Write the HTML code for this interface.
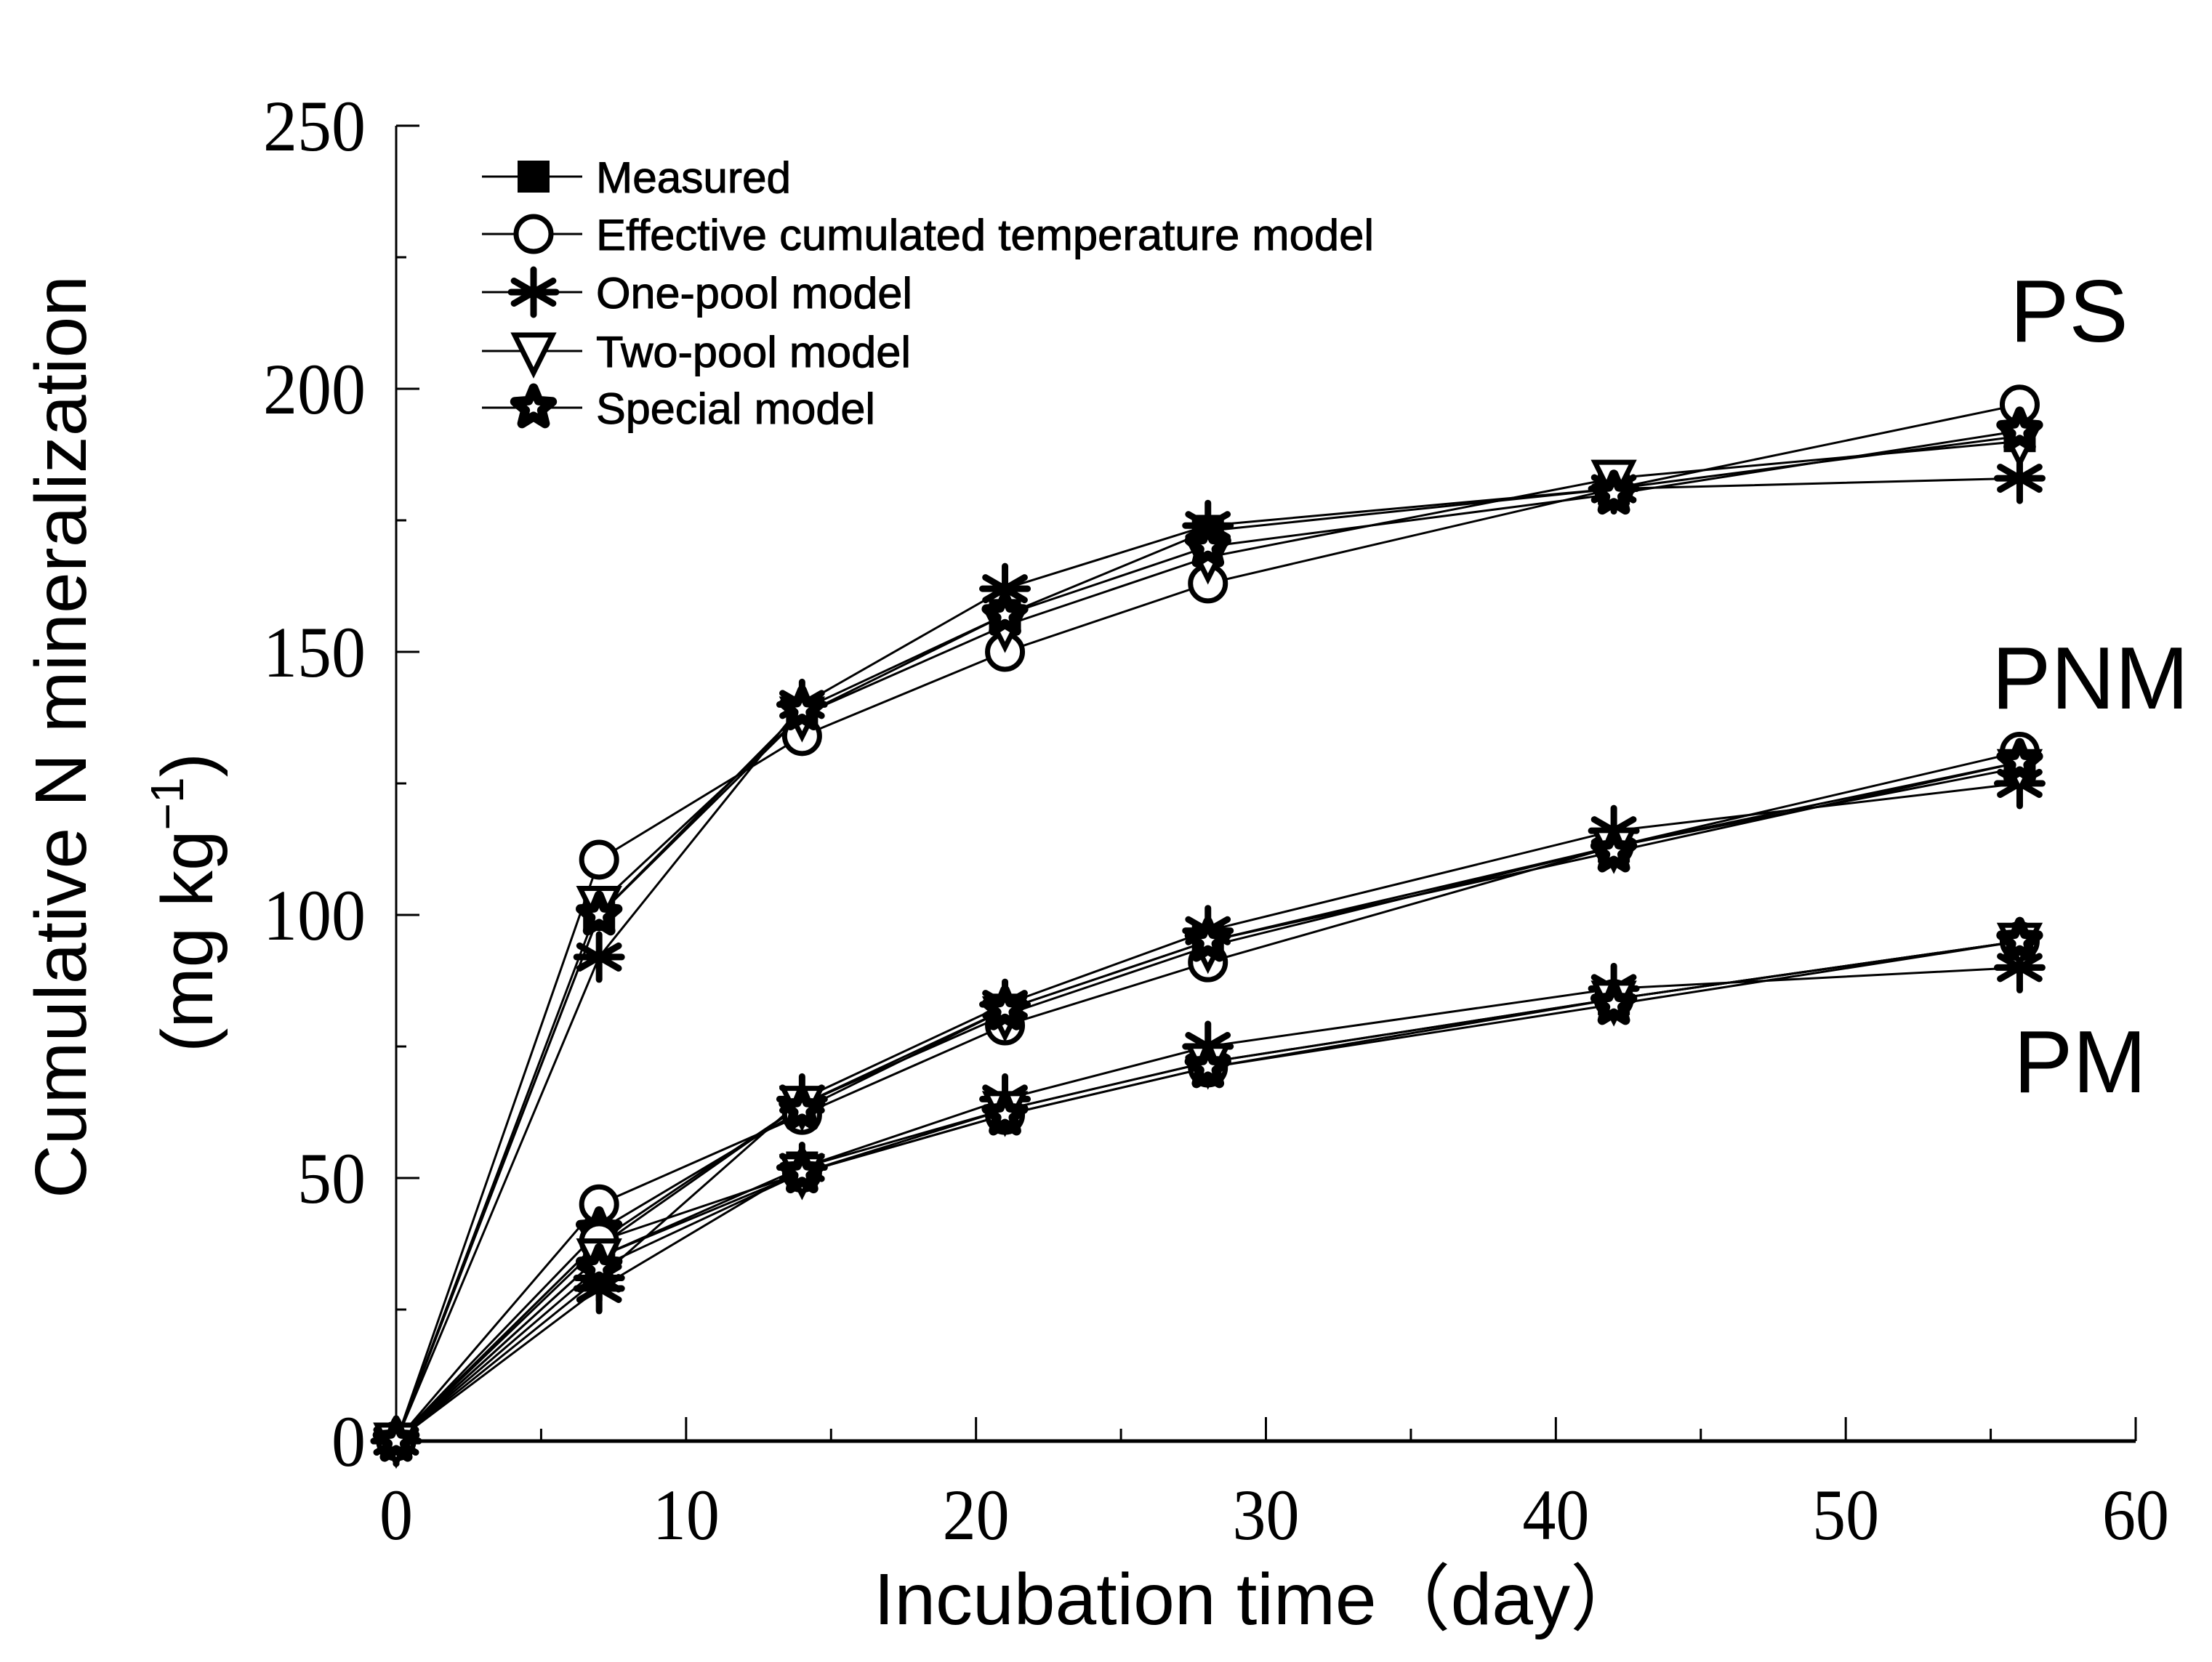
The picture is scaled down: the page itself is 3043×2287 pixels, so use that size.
<!DOCTYPE html>
<html><head><meta charset="utf-8"><style>
html,body{margin:0;padding:0;background:#fff;}
svg{display:block;}
</style></head><body>
<svg id="chart" width="3043" height="2287" viewBox="0 0 3043 2287" xmlns="http://www.w3.org/2000/svg">
<g id="axes"></g>
<g id="series"></g>
<g id="legend"></g>
<text x="1732" y="2235" text-anchor="middle" font-family="Liberation Sans, Noto Sans CJK SC, sans-serif" font-size="100" textLength="1060" lengthAdjust="spacingAndGlyphs">Incubation time（day）</text>
<text transform="translate(118,1014) rotate(-90)" text-anchor="middle" font-family="Liberation Sans, sans-serif" font-size="100" textLength="1270" lengthAdjust="spacingAndGlyphs">Cumulative N mineralization</text>
<text transform="translate(292,1242) rotate(-90)" text-anchor="middle" font-family="Liberation Sans, sans-serif" font-size="100">(mg kg<tspan dy="-40" font-size="64">−1</tspan><tspan dy="40">)</tspan></text>
<text x="2765" y="470" font-family="Liberation Sans, sans-serif" font-size="122">PS</text>
<text x="2740" y="975" font-family="Liberation Sans, sans-serif" font-size="122">PNM</text>
<text x="2770" y="1503" font-family="Liberation Sans, sans-serif" font-size="122">PM</text>
</svg>
<script>
const days = [0, 7, 14, 21, 28, 42, 56];
const xTicks = [0, 10, 20, 30, 40, 50, 60];
const yTicks = [0, 50, 100, 150, 200, 250];
const seriesNames = ["Measured", "Effective cumulated temperature model", "One-pool model", "Two-pool model", "Special model"];
const markerTypes = ["square", "circle", "asterisk", "triangle", "star"];
const psMeasured = [0, 100, 138, 157, 173, 181, 191];
const psECT = [0, 110.5, 134, 150, 163, 181, 197];
const psOne = [0, 92, 140, 162, 174, 181, 183];
const psTwo = [0, 102, 138, 155, 168, 183, 190];
const psSpecial = [0, 100, 139, 157, 170, 180, 192];
const pnmMeasured = [0, 37, 64, 82, 95, 113, 129];
const pnmECT = [0, 45, 62, 79, 91, 113, 131];
const pnmOne = [0, 31, 65, 83, 97, 116, 125];
const pnmTwo = [0, 38, 64, 81, 94, 113, 128];
const pnmSpecial = [0, 40, 63, 82, 95, 112, 129];
const pmMeasured = [0, 35, 52, 63, 72, 84, 95];
const pmECT = [0, 38, 51, 62, 71, 84, 95];
const pmOne = [0, 29, 52, 65, 75, 86, 90];
const pmTwo = [0, 35, 51, 63, 72, 84, 95];
const pmSpecial = [0, 33, 51, 62, 71, 83, 95];

const NS = "http://www.w3.org/2000/svg";
const X0 = 545, X1 = 2938, Y0 = 1983, Y1 = 173;
const xs = v => X0 + (v - 0) / 60 * (X1 - X0);
const ys = v => Y0 - (v - 0) / 250 * (Y0 - Y1);
function mk(tag, attrs, parent) { const e = document.createElementNS(NS, tag); for (const k in attrs) e.setAttribute(k, attrs[k]); parent.appendChild(e); return e; }

const axes = document.getElementById('axes');
let e;
e = mk('line', {x1: X0, y1: Y1, x2: X0, y2: Y0, stroke: '#000', 'stroke-width': 3}, axes);


e = mk('line', {x1: X0, y1: Y0, x2: X1, y2: Y0, stroke: '#000', 'stroke-width': 5}, axes);


for (let v = 0; v <= 60; v += 5) {
  const major = v % 10 === 0;
  e = mk('line', {x1: xs(v), y1: Y0, x2: xs(v), y2: Y0 - (major ? 33 : 17), stroke: '#000', 'stroke-width': 3}, axes);
  
  
}
for (let v = 0; v <= 250; v += 25) {
  const major = v % 50 === 0;
  e = mk('line', {x1: X0, y1: ys(v), x2: X0 + (major ? 32 : 14), y2: ys(v), stroke: '#000', 'stroke-width': 3}, axes);
  
  
}
xTicks.forEach(v => {
  const s = String(v);
  e = mk('text', {x: xs(v), y: 2118, 'text-anchor': 'middle', 'font-family': 'Liberation Serif, serif', 'font-size': 100, textLength: s.length * 46, lengthAdjust: 'spacingAndGlyphs'}, axes);
  e.textContent = s;
  
  
});
yTicks.forEach(v => {
  const s = String(v);
  e = mk('text', {x: 503, y: ys(v) + 34, 'text-anchor': 'end', 'font-family': 'Liberation Serif, serif', 'font-size': 100, textLength: s.length * 47, lengthAdjust: 'spacingAndGlyphs'}, axes);
  e.textContent = s;
  
  
});

function marker(type, cx, cy, parent) {
  const g = mk('g', {}, parent);
  if (type === 'square') {
    mk('rect', {x: cx - 22, y: cy - 22, width: 44, height: 44, fill: '#000'}, g);
  } else if (type === 'circle') {
    mk('circle', {cx: cx, cy: cy, r: 24, fill: '#fff', stroke: '#000', 'stroke-width': 7}, g);
  } else if (type === 'asterisk') {
    const r = 31;
    let d = '';
    [90, 30, 150].forEach(a => { const rad = a * Math.PI / 180; d += `M${cx - r * Math.cos(rad)},${cy - r * Math.sin(rad)}L${cx + r * Math.cos(rad)},${cy + r * Math.sin(rad)}`; });
    d += `M${cx - r},${cy}L${cx + r},${cy}`;
    mk('path', {d: d, stroke: '#000', 'stroke-width': 9, 'stroke-linecap': 'round'}, g);
  } else if (type === 'triangle') {
    mk('path', {d: `M${cx - 26},${cy - 22}L${cx + 26},${cy - 22}L${cx},${cy + 30}Z`, fill: '#fff', stroke: '#000', 'stroke-width': 7}, g);
  } else if (type === 'star') {
    let p = [];
    for (let i = 0; i < 10; i++) { const r = i % 2 ? 12 : 27; const a = -Math.PI / 2 + i * Math.PI / 5; p.push((cx + r * Math.cos(a)).toFixed(1) + ',' + (cy + r * Math.sin(a)).toFixed(1)); }
    mk('polygon', {points: p.join(' '), fill: '#fff', stroke: '#000', 'stroke-width': 13, 'stroke-linejoin': 'round'}, g);
  }
  return g;
}

const groups = [
  ['ps', [psMeasured, psECT, psOne, psTwo, psSpecial]],
  ['pnm', [pnmMeasured, pnmECT, pnmOne, pnmTwo, pnmSpecial]],
  ['pm', [pmMeasured, pmECT, pmOne, pmTwo, pmSpecial]]
];
const seriesG = document.getElementById('series');
groups.forEach(([gname, arrs]) => {
  arrs.forEach((vals, si) => {
    const pts = vals.map((v, i) => xs(days[i]).toFixed(1) + ',' + ys(v).toFixed(1)).join(' ');
    e = mk('polyline', {points: pts, fill: 'none', stroke: '#000', 'stroke-width': 3}, seriesG);
    
    
  });
});
groups.forEach(([gname, arrs]) => {
  arrs.forEach((vals, si) => {
    vals.forEach((v, i) => {
      const m = marker(markerTypes[si], xs(days[i]), ys(v), seriesG);
      
      
    });
  });
});

const legend = document.getElementById('legend');
const legendY = [243, 322, 402, 483, 561];
const legendWidths = [268, 1070, 435, 433, 384];
seriesNames.forEach((n, i) => {
  const g = mk('g', {}, legend);
  
  
  mk('line', {x1: 663, y1: legendY[i], x2: 801, y2: legendY[i], stroke: '#000', 'stroke-width': 3}, g);
  marker(markerTypes[i], 734, legendY[i], g);
  const t = mk('text', {x: 820, y: legendY[i] + 22, 'font-family': 'Liberation Sans, sans-serif', 'font-size': 60, 'stroke': '#000', 'stroke-width': 1, textLength: legendWidths[i], lengthAdjust: 'spacingAndGlyphs'}, g);
  t.textContent = n;
});
</script>
</body></html>
